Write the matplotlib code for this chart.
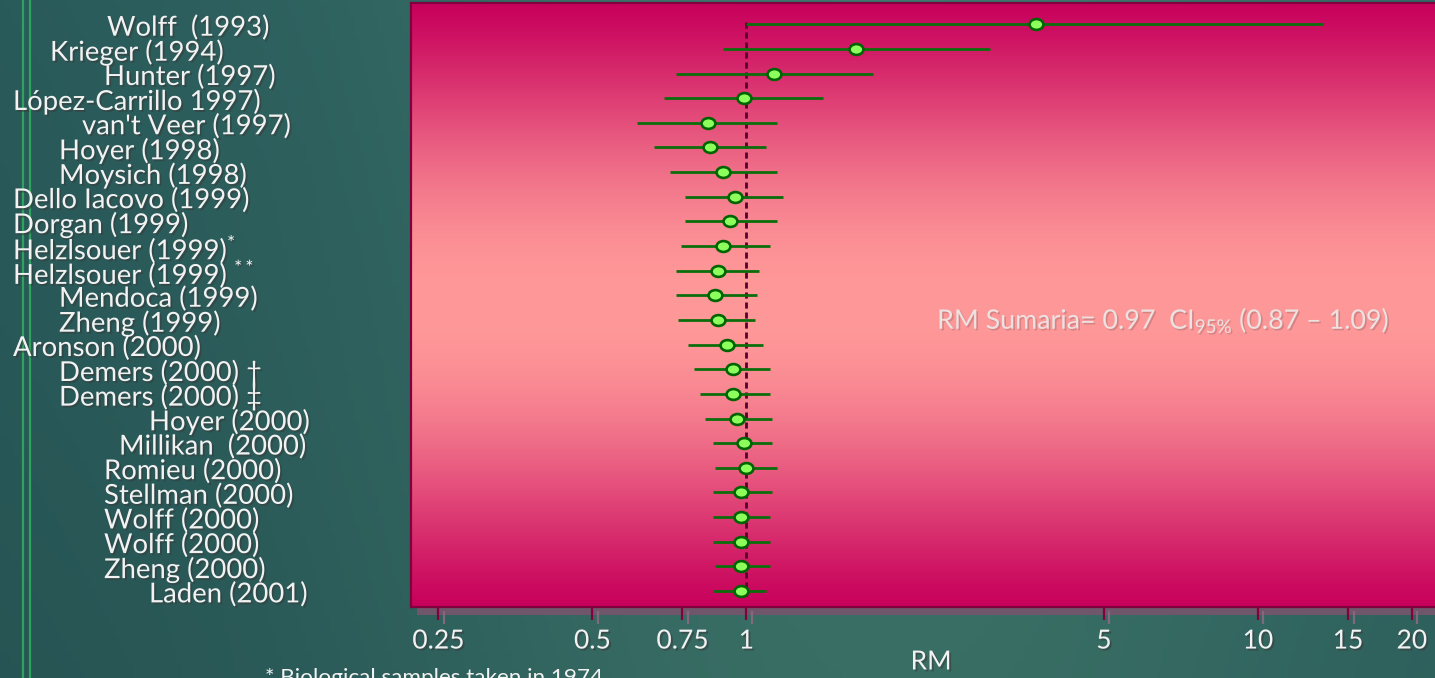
import numpy as np
import matplotlib
matplotlib.use("Agg")
import matplotlib.pyplot as plt
import matplotlib.patheffects as pe
import matplotlib.transforms as mtransforms
from matplotlib.path import Path
from matplotlib.patches import Rectangle

plt.rcParams['font.family'] = ['Lato', 'DejaVu Sans']
plt.rcParams['mathtext.fontset'] = 'custom'
plt.rcParams['mathtext.rm'] = 'Lato'
plt.rcParams['mathtext.it'] = 'Lato:italic'
plt.rcParams['mathtext.bf'] = 'Lato:bold'

# ---------------------------------------------------------
# data: odds ratios (RM) with 95% CI per study
# ---------------------------------------------------------
studies = ["Wolff  (1993)", "Krieger (1994)", "Hunter (1997)", "López-Carrillo 1997)",
           "van't Veer (1997)", "Hoyer (1998)", "Moysich (1998)", "Dello Iacovo (1999)",
           "Dorgan (1999)", "Helzlsouer (1999)$^{*}$", "Helzlsouer (1999) $^{**}$",
           "Mendoca (1999)", "Zheng (1999)", "Aronson (2000)", "Demers (2000) †",
           "Demers (2000) ‡", "Hoyer (2000)", "Millikan  (2000)", "Romieu (2000)",
           "Stellman (2000)", "Wolff (2000)", "Wolff (2000)", "Zheng (2000)", "Laden (2001)"]

rm = [3.68, 1.64, 1.135, 0.99, 0.84, 0.85, 0.90, 0.95, 0.93, 0.90, 0.88, 0.87,
      0.88, 0.915, 0.94, 0.94, 0.96, 0.99, 1.00, 0.975, 0.975, 0.975, 0.975, 0.975]
ci_low = [1.00, 0.90, 0.73, 0.69, 0.61, 0.66, 0.71, 0.76, 0.76, 0.745, 0.73, 0.73,
          0.735, 0.77, 0.79, 0.81, 0.83, 0.86, 0.87, 0.86, 0.86, 0.86, 0.87, 0.86]
ci_high = [13.4, 3.00, 1.77, 1.41, 1.15, 1.09, 1.15, 1.18, 1.15, 1.11, 1.06, 1.05,
           1.04, 1.08, 1.11, 1.11, 1.12, 1.12, 1.15, 1.12, 1.11, 1.11, 1.11, 1.09]

# label indents in pixels from the left edge of the figure
indent_px = [107, 50, 104, 13, 82, 59, 59, 13, 13, 13, 13, 59, 59, 13, 59, 59,
             149, 119, 104, 104, 104, 104, 104, 149]

xticks = [0.25, 0.5, 0.75, 1, 5, 10, 15, 20]
xtick_labels = ["0.25", "0.5", "0.75", "1", "5", "10", "15", "20"]

summary_text = "RM Sumaria= 0.97  CI$_{\\mathrm{95\\%}}$ (0.87 – 1.09)"

W, H = 1435, 678
fig = plt.figure(figsize=(W / 100, H / 100), dpi=100)

# ---------------------------------------------------------
# teal slide background
# ---------------------------------------------------------
ax_bg = fig.add_axes([0, 0, 1, 1], zorder=-10)
xx = np.linspace(0, 1, 300)
yy = np.linspace(0, 1, 150)
X, Y = np.meshgrid(xx, yy)
left_c = np.array([40, 88, 88]) / 255
mid_c = np.array([60, 116, 106]) / 255
right_c = np.array([44, 96, 94]) / 255
w_mid = np.exp(-((X - 0.62) / 0.35) ** 2)
base = left_c * (1 - X[..., None]) + right_c * X[..., None]
bg = base * (1 - w_mid[..., None]) + mid_c * w_mid[..., None]
bg = bg * (0.95 + 0.07 * Y[..., None])
ax_bg.imshow(np.clip(bg, 0, 1), aspect='auto', extent=[0, 1, 0, 1], origin='lower')
ax_bg.set_axis_off()

# thin green rules at the left
for xl in [23.5, 29.5]:
    ax_bg.axvline(xl / W, color='#2fa25e', lw=1.6)

# ---------------------------------------------------------
# forest plot
# ---------------------------------------------------------
ax = fig.add_axes([411 / W, (H - 607) / H, (1440 - 411) / W, (607 - 3) / H], zorder=1)
ax.set_xscale('log')
ax.set_xlim(0.221, 22.7)
ax.set_ylim(23.65, -0.864)

# smooth magenta -> pink -> magenta fill
t = np.linspace(0, 1, 400)
wt = np.sin(np.pi * t) ** 1.25
edge_c = np.array([200, 2, 92]) / 255
centre_c = np.array([255, 153, 153]) / 255
fill = edge_c * (1 - wt[:, None]) + centre_c * wt[:, None]
ax.imshow(fill[:, None, :], aspect='auto', extent=[0, 1, 1, 0],
          transform=ax.transAxes, zorder=0, interpolation='bilinear')

# drop shadow under the plot area
shadow_tr = ax.transAxes + mtransforms.ScaledTranslation(6 / 100, -8 / 100, fig.dpi_scale_trans)
fig.add_artist(Rectangle((0, 0), 1, 1, transform=shadow_tr, facecolor='#70566a',
                         edgecolor='none', zorder=0.5))

y = np.arange(len(studies))

ax.plot([1, 1], [-0.1, 23.2], color='#560030', lw=2.0, ls=(0, (2.2, 1.4)), zorder=2)
ax.hlines(y, ci_low, ci_high, color='#0b6e0b', lw=2.0, zorder=3)

ellipse = Path.unit_circle().transformed(mtransforms.Affine2D().scale(1.0, 0.78))
ax.plot(rm, y, ls='none', marker=ellipse, ms=10, mfc='#8cff5c', mec='#006400',
        mew=1.9, zorder=4)

for side in ['top', 'left', 'bottom', 'right']:
    ax.spines[side].set_color('#82003e')
    ax.spines[side].set_linewidth(1.6)

ax.set_yticks([])
ax.set_xticks(xticks)
ax.set_xticklabels(xtick_labels)
ax.xaxis.set_minor_locator(matplotlib.ticker.NullLocator())
ax.tick_params(axis='x', length=9.5, width=1.6, color='#82003e', pad=6,
               labelsize=19, labelcolor='#f2f2f2')

text_shadow = [pe.withSimplePatchShadow(offset=(1.4, -1.4), shadow_rgbFace='#3a3a3a', alpha=0.55)]
for lab in ax.get_xticklabels():
    lab.set_path_effects(text_shadow)
for tk in ax.xaxis.get_major_ticks():
    tk.tick1line.set_path_effects([pe.SimpleLineShadow(offset=(4, -3), shadow_color='#8a6a80',
                                                       alpha=0.9), pe.Normal()])

# study labels
lab_tr = mtransforms.blended_transform_factory(fig.transFigure, ax.transData)
for i, name in enumerate(studies):
    fig.text(indent_px[i] / W, y[i] + 0.12, name, transform=lab_tr, ha='left', va='center',
             fontsize=19.8, color='#f2f2f2', path_effects=text_shadow)

# pooled estimate
ax.text(2.36, 12.0, summary_text, ha='left', va='center', fontsize=19.3,
        color='#ece2e2', zorder=5,
        path_effects=[pe.withSimplePatchShadow(offset=(1.2, -1.2), shadow_rgbFace='#b07070',
                                              alpha=0.5)])

fig.text(931 / W, 1 - 662 / H, "RM", ha='center', va='center', fontsize=19,
         color='#f2f2f2', path_effects=text_shadow)
fig.text(265 / W, 1 - 668 / H, "* Biological samples taken in 1974", ha='left', va='top',
         fontsize=16.2, color='#f2f2f2')

fig.savefig("out.png", dpi=100)
